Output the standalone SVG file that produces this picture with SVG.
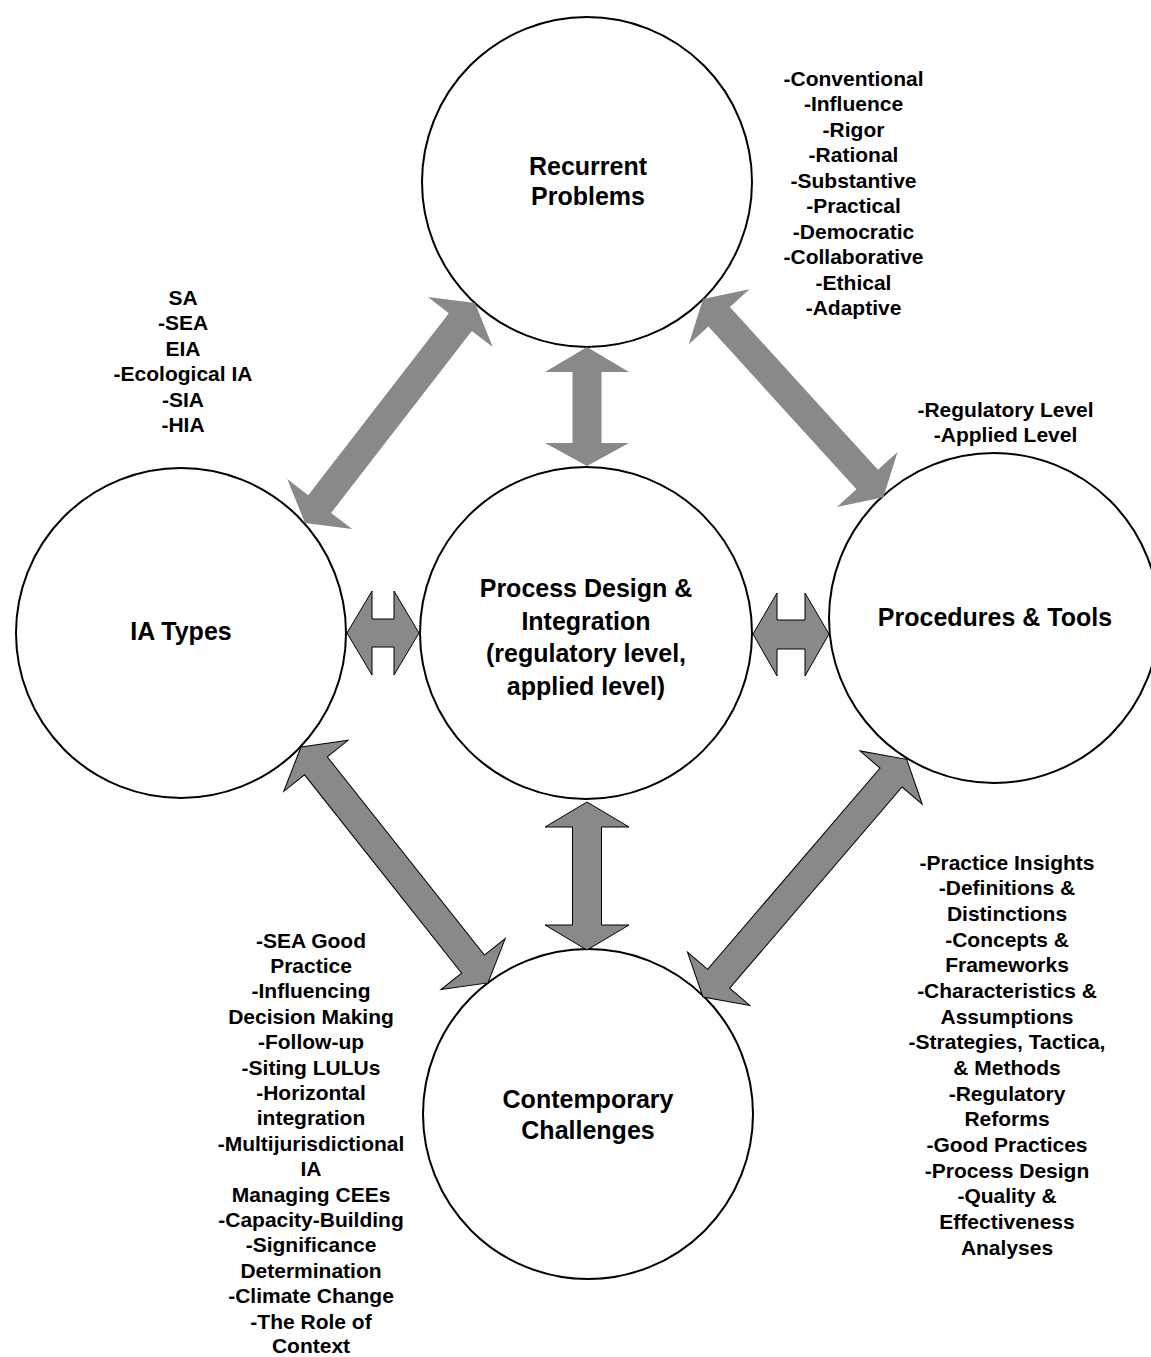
<svg xmlns="http://www.w3.org/2000/svg" width="1151" height="1357" viewBox="0 0 1151 1357">
<style>
.node circle{fill:#fff;stroke:#000;stroke-width:2}
.lbl{font-family:"Liberation Sans",Arial,sans-serif;font-weight:bold;font-size:25px;text-anchor:middle;fill:#000}
.lst{font-family:"Liberation Sans",Arial,sans-serif;font-weight:bold;font-size:21px;text-anchor:middle;fill:#000}
.arr{fill:#898989}
.arr.o{stroke:#000;stroke-width:1;stroke-linejoin:miter}
</style>
<rect width="1151" height="1357" fill="#fff"/>
<g id="node-recurrent" class="node">
<circle cx="587" cy="182" r="165"/>
<text class="lbl" x="588" y="175">Recurrent</text>
<text class="lbl" x="588" y="205">Problems</text>
</g>
<g id="node-ia-types" class="node">
<circle cx="181" cy="633" r="165"/>
<text class="lbl" x="181" y="640">IA Types</text>
</g>
<g id="node-process" class="node">
<circle cx="586" cy="633" r="166"/>
<text class="lbl" x="586" y="597">Process Design &amp;</text>
<text class="lbl" x="586" y="630">Integration</text>
<text class="lbl" x="586" y="662">(regulatory level,</text>
<text class="lbl" x="586" y="695">applied level)</text>
</g>
<g id="node-procedures" class="node">
<circle cx="994" cy="618" r="165"/>
<text class="lbl" x="995" y="626">Procedures &amp; Tools</text>
</g>
<g id="node-contemporary" class="node">
<circle cx="588" cy="1114" r="165"/>
<text class="lbl" x="588" y="1108">Contemporary</text>
<text class="lbl" x="588" y="1139">Challenges</text>
</g>
<g id="connectors">
<path class="arr" transform="translate(305,523) rotate(-52.3)" d="M0,0 L24,-41 L24,-14.5 L254,-14.5 L254,-41 L278,0 L254,41 L254,14.5 L24,14.5 L24,41 Z"/>
<path class="arr" transform="translate(703,299) rotate(47.7)" d="M0,0 L24,-41 L24,-14.5 L244,-14.5 L244,-41 L268,0 L244,41 L244,14.5 L24,14.5 L24,41 Z"/>
<path class="arr" d="M587,347 L629,372 L601.5,372 L601.5,443 L629,443 L587,466 L545,443 L572.5,443 L572.5,372 L545,372 Z"/>
<path class="arr o" d="M587,802 L629,827 L601.5,827 L601.5,925 L629,925 L587,950 L545,925 L572.5,925 L572.5,827 L545,827 Z"/>
<path class="arr o" d="M347,633 L372,591 L372,619 L394,619 L394,591 L419,633 L394,675 L394,647 L372,647 L372,675 Z"/>
<path class="arr o" d="M753,634 L777,593 L777,620 L805,620 L805,593 L829,634 L805,676 L805,649 L777,649 L777,676 Z"/>
<path class="arr o" transform="translate(301,747) rotate(51.6)" d="M0,0 L24,-41 L24,-14.5 L277,-14.5 L277,-41 L301,0 L277,41 L277,14.5 L24,14.5 L24,41 Z"/>
<path class="arr o" transform="translate(703,997) rotate(-49.4)" d="M0,0 L24,-41 L24,-14.5 L289,-14.5 L289,-41 L313,0 L289,41 L289,14.5 L24,14.5 L24,41 Z"/>
</g>
<g id="list-recurrent" class="lst">
<text x="853.5" y="85.5">-Conventional</text>
<text x="853.5" y="111">-Influence</text>
<text x="853.5" y="136.5">-Rigor</text>
<text x="853.5" y="162">-Rational</text>
<text x="853.5" y="187.5">-Substantive</text>
<text x="853.5" y="213">-Practical</text>
<text x="853.5" y="238.5">-Democratic</text>
<text x="853.5" y="264">-Collaborative</text>
<text x="853.5" y="289.5">-Ethical</text>
<text x="853.5" y="315">-Adaptive</text>
</g>
<g id="list-ia-types" class="lst">
<text x="183" y="304.5">SA</text>
<text x="183" y="330">-SEA</text>
<text x="183" y="355.5">EIA</text>
<text x="183" y="381">-Ecological IA</text>
<text x="183" y="406.5">-SIA</text>
<text x="183" y="432">-HIA</text>
</g>
<g id="list-procedures" class="lst">
<text x="1005.5" y="416.5">-Regulatory Level</text>
<text x="1005.5" y="442">-Applied Level</text>
</g>
<g id="list-process-insights" class="lst">
<text x="1007" y="869.5">-Practice Insights</text>
<text x="1007" y="895.2">-Definitions &amp;</text>
<text x="1007" y="920.8">Distinctions</text>
<text x="1007" y="946.5">-Concepts &amp;</text>
<text x="1007" y="972.2">Frameworks</text>
<text x="1007" y="997.8">-Characteristics &amp;</text>
<text x="1007" y="1023.5">Assumptions</text>
<text x="1007" y="1049.2">-Strategies, Tactica,</text>
<text x="1007" y="1074.8">&amp; Methods</text>
<text x="1007" y="1100.5">-Regulatory</text>
<text x="1007" y="1126.2">Reforms</text>
<text x="1007" y="1151.8">-Good Practices</text>
<text x="1007" y="1177.5">-Process Design</text>
<text x="1007" y="1203.2">-Quality &amp;</text>
<text x="1007" y="1228.8">Effectiveness</text>
<text x="1007" y="1254.5">Analyses</text>
</g>
<g id="list-contemporary" class="lst">
<text x="311" y="947.5">-SEA Good</text>
<text x="311" y="972.9">Practice</text>
<text x="311" y="998.3">-Influencing</text>
<text x="311" y="1023.7">Decision Making</text>
<text x="311" y="1049.1">-Follow-up</text>
<text x="311" y="1074.5">-Siting LULUs</text>
<text x="311" y="1099.9">-Horizontal</text>
<text x="311" y="1125.3">integration</text>
<text x="311" y="1150.7">-Multijurisdictional</text>
<text x="311" y="1176.1">IA</text>
<text x="311" y="1201.5">Managing CEEs</text>
<text x="311" y="1226.9">-Capacity-Building</text>
<text x="311" y="1252.3">-Significance</text>
<text x="311" y="1277.7">Determination</text>
<text x="311" y="1303.1">-Climate Change</text>
<text x="311" y="1328.5">-The Role of</text>
<text x="311" y="1352.5">Context</text>
</g>
</svg>
